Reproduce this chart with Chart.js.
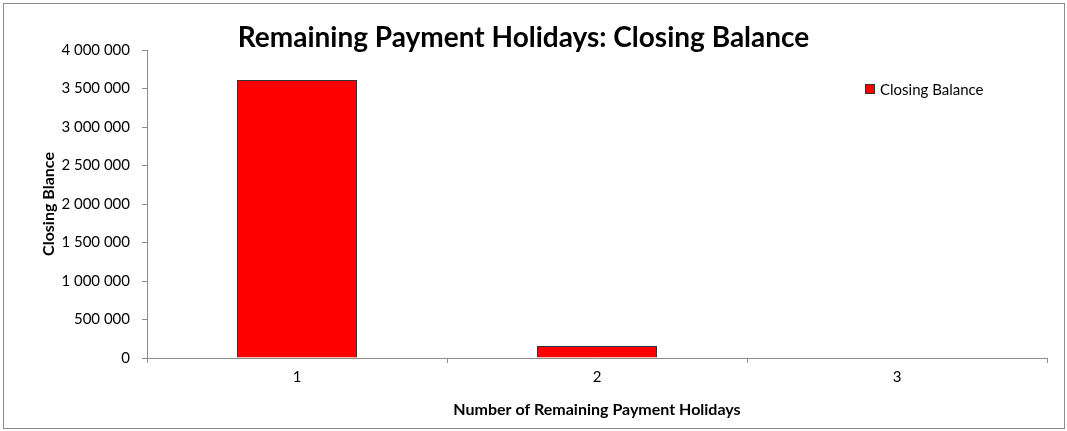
<!DOCTYPE html>
<html>
<head>
<meta charset="utf-8">
<script src="https://cdn.jsdelivr.net/npm/chart.js@4.4.1/dist/chart.umd.min.js"></script>
<style>
  html, body { margin: 0; padding: 0; background: #fff; }
  #wrap { position: relative; width: 1067px; height: 431px; }
  #frame {
    position: absolute; left: 3px; top: 3px; width: 1060px; height: 424px;
    border: 1px solid #8c8c8c; pointer-events: none;
  }
  #legend {
    position: absolute; left: 865px; top: 80px;
    font: 15px Lato, sans-serif; color: #000;
    display: flex; align-items: center;
  }
  #legend .box {
    width: 8px; height: 8px; background: #ff0000; border: 1px solid #333;
    margin-right: 5px;
  }
</style>
</head>
<body>
<div id="wrap">
  <canvas id="holidayChart" width="1067" height="431"></canvas>
  <div id="frame"></div>
  <div id="legend"><span class="box"></span><span>Closing Balance</span></div>
</div>
<script>
const categories = ["1", "2", "3"];
const closingBalance = [3610000, 157000, 0];
const yTickStep = 500000;
const yMax = 4000000;

const fmtSpace = (v) => String(v).replace(/\B(?=(\d{3})+(?!\d))/g, " ");

document.addEventListener("DOMContentLoaded", () => {
  const el = document.getElementById("holidayChart");
  new Chart(el, {
    type: "bar",
    data: {
      labels: categories,
      datasets: [
        {
          label: "Closing Balance",
          data: closingBalance,
          backgroundColor: "#ff0000",
          borderColor: "#333333",
          borderWidth: 1,
          barPercentage: 0.4,
          categoryPercentage: 1,
        },
      ],
    },
    options: {
      responsive: false,
      animation: false,
      layout: { padding: { left: 0, right: 20, top: 0, bottom: 0 } },
      plugins: {
        legend: { display: false },
        tooltip: { enabled: false },
        title: {
          display: true,
          text: "Remaining Payment Holidays: Closing Balance",
          color: "#000",
          font: { family: "Lato", size: 28, weight: "bold", lineHeight: 1 },
          padding: { top: 24, bottom: -2 },
        },
      },
      scales: {
        x: {
          grid: {
            drawOnChartArea: false,
            drawTicks: true,
            tickLength: 5,
            color: "#8c8c8c",
          },
          border: { color: "#8c8c8c" },
          ticks: { color: "#000", font: { family: "Lato", size: 15 }, padding: 5 },
          title: {
            display: true,
            text: "Number of Remaining Payment Holidays",
            color: "#000",
            font: { family: "Lato", size: 16, weight: "bold" },
            padding: { top: 0, bottom: 12 },
          },
          afterFit: (s) => { s.height = 73; },
        },
        y: {
          min: 0,
          max: yMax,
          grid: {
            drawOnChartArea: false,
            drawTicks: true,
            tickLength: 5,
            color: "#8c8c8c",
          },
          border: { color: "#8c8c8c" },
          ticks: {
            stepSize: yTickStep,
            color: "#000",
            font: { family: "Lato", size: 15 },
            padding: 12,
            callback: (v) => fmtSpace(v),
          },
          title: {
            display: true,
            text: "Closing Blance",
            color: "#000",
            font: { family: "Lato", size: 16, weight: "bold" },
            padding: { top: 39, bottom: 0 },
          },
          afterFit: (s) => { s.width = 147; },
        },
      },
    },
  });
});
</script>
</body>
</html>
